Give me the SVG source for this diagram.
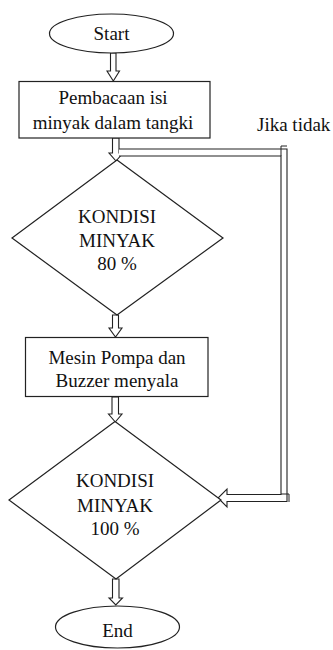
<svg xmlns="http://www.w3.org/2000/svg" width="333" height="650" viewBox="0 0 333 650">
<style>
.s{fill:#fff;stroke:#222;stroke-width:1.2}
.a{fill:#fff;stroke:#222;stroke-width:1.1;stroke-linejoin:miter}
text{font-family:'Liberation Serif','DejaVu Serif',serif;font-size:19px;fill:#111;text-anchor:middle}
</style>
<rect width="333" height="650" fill="#fff"/>
<g id="connectors">
<polygon class="a" points="110.5,53 116,53 116,71 119.5,71 113.3,81 107,71 110.5,71"/>
<polygon class="a" points="112.5,138 119,138 119,153 123,153 116,161 109,153 112.5,153"/>
<path class="a" fill="none" d="M119,149 H287 V501.5 H227 V507 L218,498 L227,489 V494.5 H281 V156 H119"/>
<path fill="none" stroke="#222" stroke-width="1" d="M281,156 V146 H287 M281,494 H289 V502"/>
<polygon class="a" points="112.5,315 118.5,315 118.5,328 122,328 115.5,337 109,328 112.5,328"/>
<polygon class="a" points="112,397 118.5,397 118.5,414 122,414 115.3,422 108.5,414 112,414"/>
<polygon class="a" points="112.5,579 119,579 119,598 122.5,598 115.8,605 109,598 112.5,598"/>
</g>
<g id="start">
<ellipse class="s" cx="111.5" cy="33.5" rx="62" ry="19.5"/>
<text x="111.5" y="39.5">Start</text>
</g>
<g id="read">
<rect class="s" x="19" y="81.5" width="191" height="56.5"/>
<text x="113" y="104">Pembacaan isi</text>
<text x="113" y="128.5">minyak dalam tangki</text>
</g>
<g id="label-no">
<text x="257" y="131" style="text-anchor:start">Jika tidak</text>
</g>
<g id="cond80">
<polygon class="s" points="117,160 223,238 117,315 12,238"/>
<text x="117" y="223">KONDISI</text>
<text x="117" y="247">MINYAK</text>
<text x="117" y="270">80 %</text>
</g>
<g id="pump">
<rect class="s" x="25.5" y="337.5" width="182.5" height="59"/>
<text x="117" y="363.5">Mesin Pompa dan</text>
<text x="117" y="387">Buzzer menyala</text>
</g>
<g id="cond100">
<polygon class="s" points="115,421.5 221,500 116,579 9,500"/>
<text x="115" y="487">KONDISI</text>
<text x="115" y="511.5">MINYAK</text>
<text x="115" y="535">100 %</text>
</g>
<g id="end">
<ellipse class="s" cx="117.5" cy="627" rx="62" ry="21"/>
<text x="117.5" y="637">End</text>
</g>
</svg>
